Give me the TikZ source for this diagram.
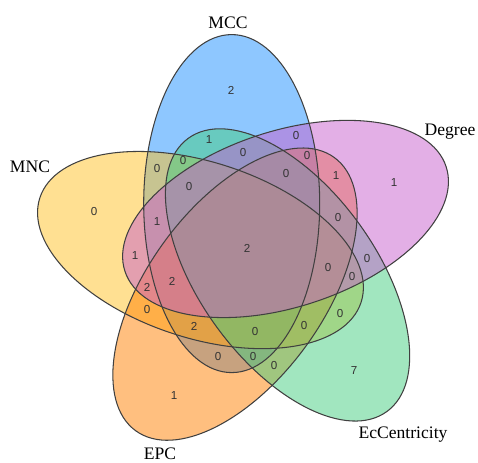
\documentclass[tikz,border=0pt]{standalone}
\usepackage{fontspec}
\setmainfont{Liberation Serif}
\newfontfamily\cntfont{Liberation Sans}
\definecolor{mccblue}{RGB}{30,144,255}
\definecolor{degpurple}{RGB}{200,95,205}
\definecolor{eccgreen}{RGB}{67,205,128}
\definecolor{epcorange}{RGB}{255,127,0}
\definecolor{mncyellow}{RGB}{255,193,37}
\begin{document}
\begin{tikzpicture}[scale=0.02]
	\tikzset{setfill/.style={fill opacity=0.5},
		setline/.style={draw=black!75, line width=0.6pt},
		cnt/.style={inner sep=0pt, text=black!80, font=\cntfont\fontsize{6.6}{8}\selectfont},
		setname/.style={inner sep=0pt, font=\fontsize{10}{12}\selectfont}};

	\useasboundingbox (0,0) rectangle (478,463);
	\coordinate (c) at (248,214.6);

	% fills first, then the outlines
	\foreach \ang/\col in {0/mccblue, -288/mncyellow, -216/epcorange, -144/eccgreen, -72/degpurple}
		\fill[\col, setfill, rotate around={\ang:(c)}] (231.7,259.4) ellipse [x radius=88, y radius=169];
	\foreach \ang in {0, -72, -144, -216, -288}
		\draw[setline, rotate around={\ang:(c)}] (231.7,259.4) ellipse [x radius=88, y radius=169];

	\node[setname] (mcc) at (228,440) {MCC};
	\node[setname] (deg) at (450,331) {Degree};
	\node[setname] (mnc) at (30,296) {MNC};
	\node[setname] (epc) at (160,9) {EPC};
	\node[setname] (ecc) at (403,28) {EcCentricity};

	% region counts
	\foreach \x/\y/\v [count=\k] in {231/373/2, 209/323/1, 296/327/0, 243/310/0, 307/307/0,
			157/294/0, 183/302/0, 286/289/0, 336/287/1, 394/280/1, 189/276/0, 94/251/0,
			157/241/1, 338/245/0, 247/215/2, 135/207/1, 367/204/0, 328/195/0, 352/186/0,
			147/176/2, 172/182/2, 147/153/0, 340/149/0, 194/137/2, 304/137/0, 255/131/0,
			218/106/0, 253/106/0, 274/97/0, 354/92/7, 174/67/1}
		\node[cnt] (r\k) at (\x,\y) {\v};
\end{tikzpicture}
\end{document}
